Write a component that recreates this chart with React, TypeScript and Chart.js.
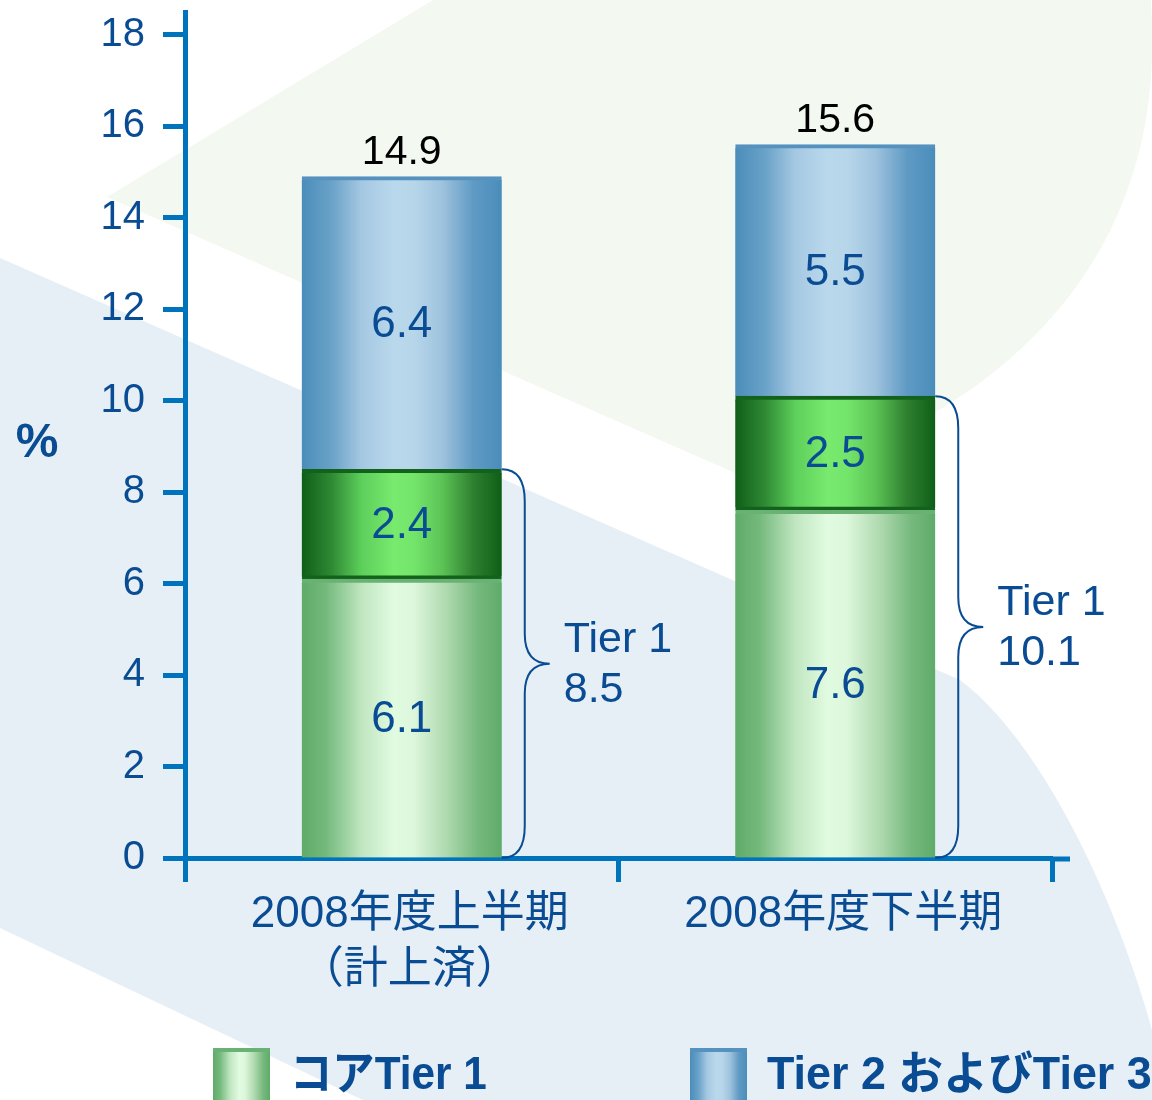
import React, { useEffect, useRef } from 'react';
import { Chart, registerables } from 'chart.js';

Chart.register(...registerables);

// ---------------- data ----------------
const categories: (string | string[])[] = [['2008年度上半期', '（計上済）'], '2008年度下半期'];
const coreTier1 = [6.1, 7.6];
const otherTier1 = [2.4, 2.5];
const tier2and3 = [6.4, 5.5];
const stackTotals = [14.9, 15.6];
const tier1Totals = [8.5, 10.1];
const yTickValues = [0, 2, 4, 6, 8, 10, 12, 14, 16, 18];
const seriesNames = ['コアTier 1', 'その他Tier 1', 'Tier 2 およびTier 3'];
const legendNames = ['コアTier 1', 'Tier 2 およびTier 3'];
const bracketLabel = 'Tier 1';
const unitLabel = '%';

// ---------------- style ----------------
const TEXT_BLUE = '#0a4c93';
const AXIS_BLUE = '#0073bd';
const FONT = '"Liberation Sans", Arial, "Noto Sans CJK JP", sans-serif';
const BAR_HALF = 100;

type Stops = [number, string][];
const LIGHT_GREEN_STOPS: Stops = [
  [0, '#5fab69'], [0.12, '#74b97c'], [0.3, '#c0e6c0'], [0.46, '#e1fbe1'],
  [0.56, '#dcf7db'], [0.72, '#b0dab0'], [0.88, '#76b97e'], [1, '#5fab69'],
];
const DARK_GREEN_STOPS: Stops = [
  [0, '#0f5e18'], [0.15, '#2f8a34'], [0.3, '#5dcf5b'], [0.46, '#78ea6e'],
  [0.56, '#74e56b'], [0.7, '#5cc456'], [0.86, '#2e7f2f'], [1, '#0f5e18'],
];
const BLUE_STOPS: Stops = [
  [0, '#4a8dba'], [0.15, '#6aa2c8'], [0.3, '#a5c8e2'], [0.46, '#b9d8ec'],
  [0.56, '#b7d6ea'], [0.7, '#9fc3de'], [0.86, '#5f9ac4'], [1, '#4a8dba'],
];

function makeGradient(c: CanvasRenderingContext2D, x0: number, x1: number, stops: Stops) {
  const g = c.createLinearGradient(x0, 0, x1, 0);
  stops.forEach(([o, col]) => g.addColorStop(o, col));
  return g;
}

const gradientFill = (stops: Stops) => (ctx: any) => {
  const fallback = stops[3][1];
  if (ctx.type !== 'data') return fallback;
  const chart = ctx.chart;
  if (!chart.chartArea) return fallback;
  const xs = chart.scales && chart.scales.x;
  if (!xs) return fallback;
  const cx = xs.getPixelForValue(ctx.dataIndex);
  if (!Number.isFinite(cx)) return fallback;
  return makeGradient(chart.ctx, cx - BAR_HALF, cx + BAR_HALF, stops);
};

const backgroundPlugin = {
  id: 'decorBackground',
  beforeDraw(chart: any) {
    const c: CanvasRenderingContext2D = chart.ctx;
    c.save();
    c.fillStyle = '#ffffff';
    c.fillRect(0, 0, chart.width, chart.height);
    // light green sweep (top right)
    c.fillStyle = '#f3f8f1';
    c.beginPath();
    c.moveTo(433, 0);
    c.lineTo(107, 197);
    c.lineTo(760, 484);
    c.bezierCurveTo(1000, 420, 1175, 260, 1150, -10);
    c.closePath();
    c.fill();
    // light blue band
    c.fillStyle = '#e6eff6';
    c.beginPath();
    c.moveTo(0, 258);
    c.lineTo(960, 680);
    c.bezierCurveTo(1040, 740, 1120, 900, 1160, 1060);
    c.lineTo(1160, 1110);
    c.lineTo(384, 1110);
    c.lineTo(0, 928);
    c.closePath();
    c.fill();
    c.restore();
  },
};

const overlayPlugin = {
  id: 'overlay',
  afterDraw(chart: any) {
    const c: CanvasRenderingContext2D = chart.ctx;
    const area = chart.chartArea;
    const ys = chart.scales.y;
    c.save();

    // x axis extension on the right
    c.strokeStyle = AXIS_BLUE;
    c.lineWidth = 5;
    c.beginPath();
    c.moveTo(area.right - 2, area.bottom + 1);
    c.lineTo(area.right + 18, area.bottom + 1);
    c.stroke();

    // segment value labels
    c.textAlign = 'center';
    c.textBaseline = 'middle';
    c.font = `44px ${FONT}`;
    c.fillStyle = TEXT_BLUE;
    chart.data.datasets.forEach((ds: any, di: number) => {
      const meta = chart.getDatasetMeta(di);
      meta.data.forEach((el: any, i: number) => {
        const v = ds.data[i];
        c.fillText(v.toFixed(1), el.x, (el.y + el.base) / 2 + 2);
      });
    });

    // stack totals
    const topMeta = chart.getDatasetMeta(2);
    c.font = `41px ${FONT}`;
    c.fillStyle = '#000000';
    c.textBaseline = 'alphabetic';
    topMeta.data.forEach((el: any, i: number) => {
      c.fillText(stackTotals[i].toFixed(1), el.x, el.y - 13);
    });

    // Tier 1 braces
    const midMeta = chart.getDatasetMeta(1);
    c.strokeStyle = TEXT_BLUE;
    c.lineWidth = 2;
    midMeta.data.forEach((el: any, i: number) => {
      const bx = el.x + BAR_HALF;
      const yT = ys.getPixelForValue(tier1Totals[i]);
      const yB = ys.getPixelForValue(0);
      const yM = (yT + yB) / 2;
      const vx = bx + 23;
      const tip = bx + 48;
      c.beginPath();
      c.moveTo(bx, yT);
      c.quadraticCurveTo(vx, yT, vx, yT + 32);
      c.lineTo(vx, yM - 30);
      c.quadraticCurveTo(vx, yM, tip, yM);
      c.quadraticCurveTo(vx, yM, vx, yM + 30);
      c.lineTo(vx, yB - 32);
      c.quadraticCurveTo(vx, yB, bx, yB);
      c.stroke();
      c.font = `43px ${FONT}`;
      c.fillStyle = TEXT_BLUE;
      c.textAlign = 'left';
      c.textBaseline = 'middle';
      c.fillText(bracketLabel, tip + 14, yM - 24);
      c.fillText(tier1Totals[i].toFixed(1), tip + 14, yM + 26);
    });

    // unit label
    c.font = `bold 48px ${FONT}`;
    c.textAlign = 'center';
    c.textBaseline = 'middle';
    c.fillStyle = TEXT_BLUE;
    c.fillText(unitLabel, 37, 444);

    // legend
    const items = [
      { x: 213, stops: LIGHT_GREEN_STOPS, band: '#69b273', label: legendNames[0], sx: 0.92 },
      { x: 690, stops: BLUE_STOPS, band: '#5592bf', label: legendNames[1], sx: 0.975 },
    ];
    items.forEach((it) => {
      const w = 57;
      const top = 1048;
      c.fillStyle = makeGradient(c, it.x, it.x + w, it.stops);
      c.fillRect(it.x, top, w, 70);
      c.fillStyle = it.band;
      c.fillRect(it.x, top, w, 4);
      c.save();
      c.font = `bold 46px ${FONT}`;
      c.fillStyle = TEXT_BLUE;
      c.textAlign = 'left';
      c.textBaseline = 'middle';
      c.translate(it.x + w + 20, 1076);
      c.scale(it.sx, 1);
      c.fillText(it.label, 0, 0);
      c.restore();
    });

    c.restore();
  },
};

export default function App() {
  const ref = useRef<HTMLCanvasElement | null>(null);

  useEffect(() => {
    if (!ref.current) return;
    const chart = new Chart(ref.current, {
      type: 'bar',
      data: {
        labels: categories,
        datasets: [
          {
            label: seriesNames[0],
            data: coreTier1,
            backgroundColor: gradientFill(LIGHT_GREEN_STOPS),
            borderColor: '#69b273',
            borderWidth: { top: 4, bottom: 0, left: 0, right: 0 },
            borderSkipped: false,
            stack: 's',
          },
          {
            label: seriesNames[1],
            data: otherTier1,
            backgroundColor: gradientFill(DARK_GREEN_STOPS),
            borderColor: '#13621c',
            borderWidth: { top: 4, bottom: 4, left: 0, right: 0 },
            borderSkipped: false,
            stack: 's',
          },
          {
            label: seriesNames[2],
            data: tier2and3,
            backgroundColor: gradientFill(BLUE_STOPS),
            borderColor: '#5592bf',
            borderWidth: { top: 4, bottom: 0, left: 0, right: 0 },
            borderSkipped: false,
            stack: 's',
          },
        ],
      },
      options: {
        responsive: false,
        devicePixelRatio: 1,
        animation: false,
        layout: { padding: { top: 12, right: 100, bottom: 0, left: 0 } },
        datasets: { bar: { barThickness: BAR_HALF * 2 } },
        plugins: {
          legend: { display: false },
          tooltip: { enabled: false },
        },
        scales: {
          x: {
            stacked: true,
            afterFit: (s: any) => {
              s.height = 242;
              s.paddingLeft = 0;
              s.paddingRight = 0;
            },
            grid: {
              offset: true,
              drawOnChartArea: false,
              drawTicks: true,
              tickLength: 24,
              tickWidth: 5,
              tickColor: AXIS_BLUE,
            },
            border: { display: true, color: AXIS_BLUE, width: 5 },
            ticks: {
              z: 1,
              color: TEXT_BLUE,
              font: { family: FONT, size: 44, lineHeight: 1.27 },
              padding: 5,
              maxRotation: 0,
              autoSkip: false,
              labelOffset: 8,
            },
          },
          y: {
            stacked: true,
            min: 0,
            max: 18.5,
            afterFit: (s: any) => {
              s.width = 185;
              s.paddingTop = 0;
              s.paddingBottom = 0;
            },
            afterBuildTicks: (s: any) => { s.ticks = yTickValues.map((v) => ({ value: v })); },
            grid: {
              drawOnChartArea: false,
              drawTicks: true,
              tickLength: 22,
              tickWidth: 5,
              tickColor: AXIS_BLUE,
            },
            border: { display: true, color: AXIS_BLUE, width: 5 },
            ticks: {
              z: 1,
              color: TEXT_BLUE,
              font: { family: FONT, size: 40 },
              padding: 18,
              callback: (v: any) => String(v),
            },
          },
        },
      },
      plugins: [backgroundPlugin, overlayPlugin],
    } as any);
    return () => chart.destroy();
  }, []);

  return (
    <div style={{ position: 'fixed', left: 0, top: 0, width: 1152, height: 1100, background: '#fff' }}>
      <canvas ref={ref} width={1152} height={1100} style={{ display: 'block' }} />
    </div>
  );
}
